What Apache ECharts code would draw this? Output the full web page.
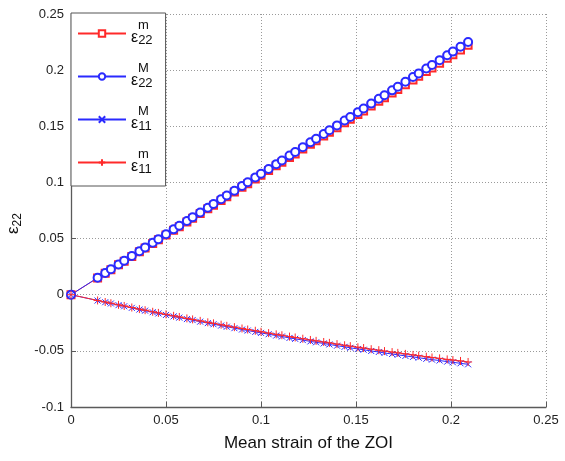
<!DOCTYPE html>
<html>
<head>
<meta charset="utf-8">
<script src="https://cdn.jsdelivr.net/npm/echarts@6/dist/echarts.min.js"></script>
<style>
html,body{margin:0;padding:0;background:#fff;}
#chart{width:565px;height:461px;}
</style>
</head>
<body>
<div id="chart"></div>
<script>
// Mean strain of the ZOI (x values)
const xValues = [0, 0.014, 0.018, 0.021, 0.025, 0.028, 0.032, 0.036, 0.039, 0.043, 0.046, 0.050, 0.054, 0.057, 0.061, 0.064, 0.068, 0.072, 0.075, 0.079, 0.082, 0.086, 0.090, 0.093, 0.097, 0.100, 0.104, 0.108, 0.111, 0.115, 0.118, 0.122, 0.126, 0.129, 0.133, 0.136, 0.140, 0.144, 0.147, 0.151, 0.154, 0.158, 0.162, 0.165, 0.169, 0.172, 0.176, 0.180, 0.183, 0.187, 0.190, 0.194, 0.198, 0.201, 0.205, 0.209];

const e22m = [0, 0.0149, 0.0191, 0.0223, 0.0266, 0.0298, 0.0340, 0.0383, 0.0415, 0.0457, 0.0489, 0.0532, 0.0574, 0.0606, 0.0648, 0.0680, 0.0723, 0.0765, 0.0797, 0.0840, 0.0872, 0.0914, 0.0957, 0.0989, 0.1031, 0.1063, 0.1106, 0.1148, 0.1180, 0.1222, 0.1254, 0.1297, 0.1339, 0.1371, 0.1414, 0.1446, 0.1488, 0.1531, 0.1563, 0.1605, 0.1637, 0.1680, 0.1722, 0.1754, 0.1796, 0.1828, 0.1871, 0.1913, 0.1945, 0.1988, 0.2020, 0.2062, 0.2105, 0.2137, 0.2179, 0.2222];

const e22M = [0, 0.0151, 0.0194, 0.0226, 0.0269, 0.0302, 0.0345, 0.0388, 0.0420, 0.0463, 0.0495, 0.0539, 0.0582, 0.0614, 0.0657, 0.0689, 0.0732, 0.0775, 0.0808, 0.0851, 0.0883, 0.0926, 0.0969, 0.1002, 0.1045, 0.1077, 0.1120, 0.1163, 0.1195, 0.1239, 0.1271, 0.1314, 0.1357, 0.1389, 0.1432, 0.1465, 0.1508, 0.1551, 0.1583, 0.1626, 0.1659, 0.1702, 0.1745, 0.1777, 0.1820, 0.1852, 0.1896, 0.1939, 0.1971, 0.2014, 0.2046, 0.2089, 0.2132, 0.2165, 0.2208, 0.2251];

const e11M = [0, -0.0052, -0.0067, -0.0078, -0.0093, -0.0103, -0.0117, -0.0132, -0.0142, -0.0156, -0.0167, -0.0180, -0.0193, -0.0204, -0.0217, -0.0226, -0.0240, -0.0253, -0.0263, -0.0275, -0.0285, -0.0298, -0.0310, -0.0319, -0.0331, -0.0340, -0.0352, -0.0364, -0.0372, -0.0385, -0.0393, -0.0404, -0.0416, -0.0424, -0.0434, -0.0443, -0.0454, -0.0464, -0.0473, -0.0483, -0.0490, -0.0501, -0.0510, -0.0519, -0.0528, -0.0535, -0.0545, -0.0554, -0.0561, -0.0571, -0.0578, -0.0586, -0.0596, -0.0602, -0.0611, -0.0620];

const e11m = [0, -0.0051, -0.0065, -0.0076, -0.0090, -0.0100, -0.0114, -0.0128, -0.0138, -0.0152, -0.0162, -0.0175, -0.0188, -0.0198, -0.0211, -0.0220, -0.0233, -0.0246, -0.0255, -0.0267, -0.0277, -0.0289, -0.0301, -0.0310, -0.0321, -0.0330, -0.0342, -0.0353, -0.0361, -0.0373, -0.0381, -0.0392, -0.0403, -0.0411, -0.0421, -0.0429, -0.0440, -0.0450, -0.0458, -0.0468, -0.0475, -0.0485, -0.0494, -0.0502, -0.0511, -0.0518, -0.0527, -0.0536, -0.0543, -0.0552, -0.0559, -0.0567, -0.0576, -0.0582, -0.0590, -0.0599];

const seriesNames = ['e22m', 'e22M', 'e11M', 'e11m'];
const legendSup = { e22m: 'm', e22M: 'M', e11M: 'M', e11m: 'm' };
const legendSub = { e22m: '22', e22M: '22', e11M: '11', e11m: '11' };

const xTicks = ['0', '0.05', '0.1', '0.15', '0.2', '0.25'];
const yTicks = ['-0.1', '-0.05', '0', '0.05', '0.1', '0.15', '0.2', '0.25'];

const RED = '#ff2a2a';
const BLUE = '#2a2aff';
const FONT = '"Liberation Sans", Arial, Helvetica, sans-serif';

function zip(ys) { return xValues.map((x, i) => [x, ys[i]]); }

const chart = echarts.init(document.getElementById('chart'), null, { renderer: 'canvas' });

function axisCommon() {
  return {
    axisLine: { show: true, onZero: false, lineStyle: { color: '#5a5a5a', width: 1.3 } },
    axisTick: { show: true, inside: true, length: 5, lineStyle: { color: '#5a5a5a' } },
    splitLine: { show: true, lineStyle: { color: '#9a9a9a', width: 1, type: [1, 2] } }
  };
}

const option = {
  backgroundColor: '#fff',
  animation: false,
  grid: { left: 71, right: 19, top: 14, bottom: 54, containLabel: false, outerBoundsMode: 'none' },
  xAxis: Object.assign(axisCommon(), {
    type: 'value', min: 0, max: 0.25, interval: 0.05,
    name: 'Mean strain of the ZOI', nameLocation: 'middle', nameGap: 28,
    nameTextStyle: { color: '#111', fontFamily: FONT, fontSize: 17 },
    axisLabel: { color: '#222', fontFamily: FONT, fontSize: 13, margin: 7,
      formatter: v => { const i = Math.round(v / 0.05); return xTicks[i]; } }
  }),
  yAxis: Object.assign(axisCommon(), {
    type: 'value', min: -0.1, max: 0.25, interval: 0.05,
    name: '{e|ε}{s|22}{g|}', nameLocation: 'middle', nameGap: 46, nameRotate: 90,
    nameTextStyle: { color: '#111', fontFamily: FONT,
      rich: { e: { fontSize: 17, fontFamily: FONT, color: '#111' },
              s: { fontSize: 12, fontFamily: FONT, color: '#111', padding: [9, 0, 0, 0] },
              g: { width: 26 } } },
    axisLabel: { color: '#222', fontFamily: FONT, fontSize: 13, margin: 7,
      formatter: v => { const i = Math.round((v + 0.1) / 0.05); return yTicks[i]; } }
  }),
  legend: {
    orient: 'vertical', left: 71, top: 13,
    data: seriesNames,
    backgroundColor: '#fff',
    borderColor: '#555', borderWidth: 1, borderRadius: 0,
    padding: [6, 13, 6, 6],
    itemWidth: 48, itemHeight: 8, itemGap: 11, itemTextGap: 5,
    formatter: name => '{sp|}{sup|' + legendSup[name] + '}\n{eps|ε}{sub|' + legendSub[name] + '}',
    textStyle: {
      color: '#111', fontFamily: FONT,
      rich: {
        sp: { width: 7, lineHeight: 14 },
        sup: { fontSize: 13, lineHeight: 14, fontFamily: FONT, color: '#111' },
        eps: { fontSize: 16, lineHeight: 16, fontFamily: FONT, color: '#111', padding: [0, 0, 5, 0] },
        sub: { fontSize: 13, lineHeight: 16, fontFamily: FONT, color: '#111' }
      }
    }
  },
  series: [
    { name: 'e22m', type: 'line', data: zip(e22m), symbol: 'emptyRect', symbolSize: 7,
      lineStyle: { color: RED, width: 1 }, itemStyle: { color: RED, borderColor: RED, borderWidth: 1 } },
    { name: 'e22M', type: 'line', data: zip(e22M), symbol: 'emptyCircle', symbolSize: 8,
      lineStyle: { color: BLUE, width: 1 }, itemStyle: { color: BLUE, borderColor: BLUE, borderWidth: 1 } },
    { name: 'e11M', type: 'line', data: zip(e11M), symbol: 'path://M0,0L10,10M10,0L0,10', symbolSize: 6,
      lineStyle: { color: BLUE, width: 1 }, itemStyle: { color: BLUE, borderColor: BLUE, borderWidth: 1 } },
    { name: 'e11m', type: 'line', data: zip(e11m), symbol: 'path://M5,0L5,10M0,5L10,5', symbolSize: 8,
      lineStyle: { color: RED, width: 1 }, itemStyle: { color: RED, borderColor: RED, borderWidth: 1 } }
  ]
};
chart.setOption(option);
</script>
</body>
</html>
